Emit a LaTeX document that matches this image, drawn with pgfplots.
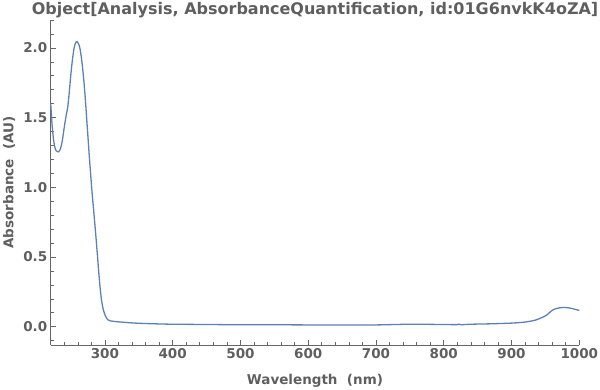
\documentclass[border=0pt]{standalone}
\usepackage{fontspec}
\setmainfont{DejaVu Sans}
\usepackage{pgfplots}
\pgfplotsset{compat=1.18}
\definecolor{linec}{HTML}{5E81B5}
\definecolor{labgray}{HTML}{5F5F5F}
\definecolor{axgray}{HTML}{666666}
\begin{document}
\begin{tikzpicture}[x=1pt,y=1pt]
\useasboundingbox (-50.7,-45) rectangle (549.3,345);
\begin{axis}[
  at={(0,0)}, anchor=south west,
  scale only axis, width=528.6pt, height=325pt,
  xmin=220, xmax=1000, ymin=-0.131, ymax=2.2,
  axis x line*=bottom, axis y line*=left,
  axis line style={color=axgray, line width=0.8pt, -},
  xtick={300,400,...,1000}, minor xtick={220,240,...,1000},
  ytick={0,0.5,1,1.5,2}, minor ytick={-0.1,0,0.1,0.2,0.3,0.4,0.5,0.6,0.7,0.8,0.9,1,1.1,1.2,1.3,1.4,1.5,1.6,1.7,1.8,1.9,2,2.1,2.2},
  tick align=inside, major tick length=5pt, minor tick length=3pt,
  tick style={color=axgray, line width=0.6pt},
  /pgf/number format/assume math mode=true,
  yticklabel style={/pgf/number format/.cd, fixed, fixed zerofill, precision=1},
  xticklabel style={/pgf/number format/.cd, set thousands separator={}},
  ticklabel style={font=\fontsize{13.5}{16}\selectfont\bfseries, text=labgray},
  xlabel={Wavelength\ \ (nm)}, ylabel={Absorbance\ \ (AU)},
  label style={font=\fontsize{13.5}{16}\selectfont\bfseries, text=labgray},
  xlabel style={at={(axis description cs:0.5,-0.1108)}, anchor=center},
  ylabel style={at={(axis description cs:-0.0785,0.5)}, anchor=center},
  clip=false,
]
\addplot[color=linec, line width=1.3pt, smooth, tension=0.4] coordinates {
(220,1.60) (222,1.45) (224,1.35) (226,1.29) (228,1.262) (231,1.254) (234,1.27) (237,1.33)
(240,1.43) (243,1.52) (245,1.57) (247,1.66) (249,1.77) (251,1.87) (253,1.95) (255,2.01)
(257,2.04) (259,2.045) (261,2.03) (263,2.00) (265,1.94) (267,1.86) (269,1.76) (271,1.64)
(273,1.50) (275,1.36) (277,1.22) (279,1.09) (281,0.965) (283,0.855) (285,0.745) (287,0.63)
(289,0.51) (291,0.385) (293,0.275) (295,0.19) (297,0.135) (299,0.10) (301,0.075) (303,0.058)
(305,0.048) (308,0.042) (312,0.039) (318,0.036) (330,0.031) (345,0.026) (360,0.023) (380,0.020)
(400,0.018) (450,0.016) (500,0.014) (550,0.014) (600,0.013) (650,0.013) (700,0.013) (720,0.015)
(750,0.018) (780,0.017) (800,0.016) (820,0.015) (822,0.019) (825,0.014) (840,0.018) (870,0.021)
(900,0.026) (915,0.031) (925,0.037) (935,0.047) (945,0.066) (952,0.084) (958,0.110) (963,0.125)
(970,0.135) (978,0.138) (985,0.135) (992,0.127) (1000,0.117)
};
\node[font=\fontsize{16}{19}\selectfont\bfseries, text=labgray, anchor=center] at (axis description cs:0.5,1.030) {Object[Analysis, AbsorbanceQuantification, id:01G6nvkK4oZA]};
\end{axis}
\end{tikzpicture}
\end{document}
